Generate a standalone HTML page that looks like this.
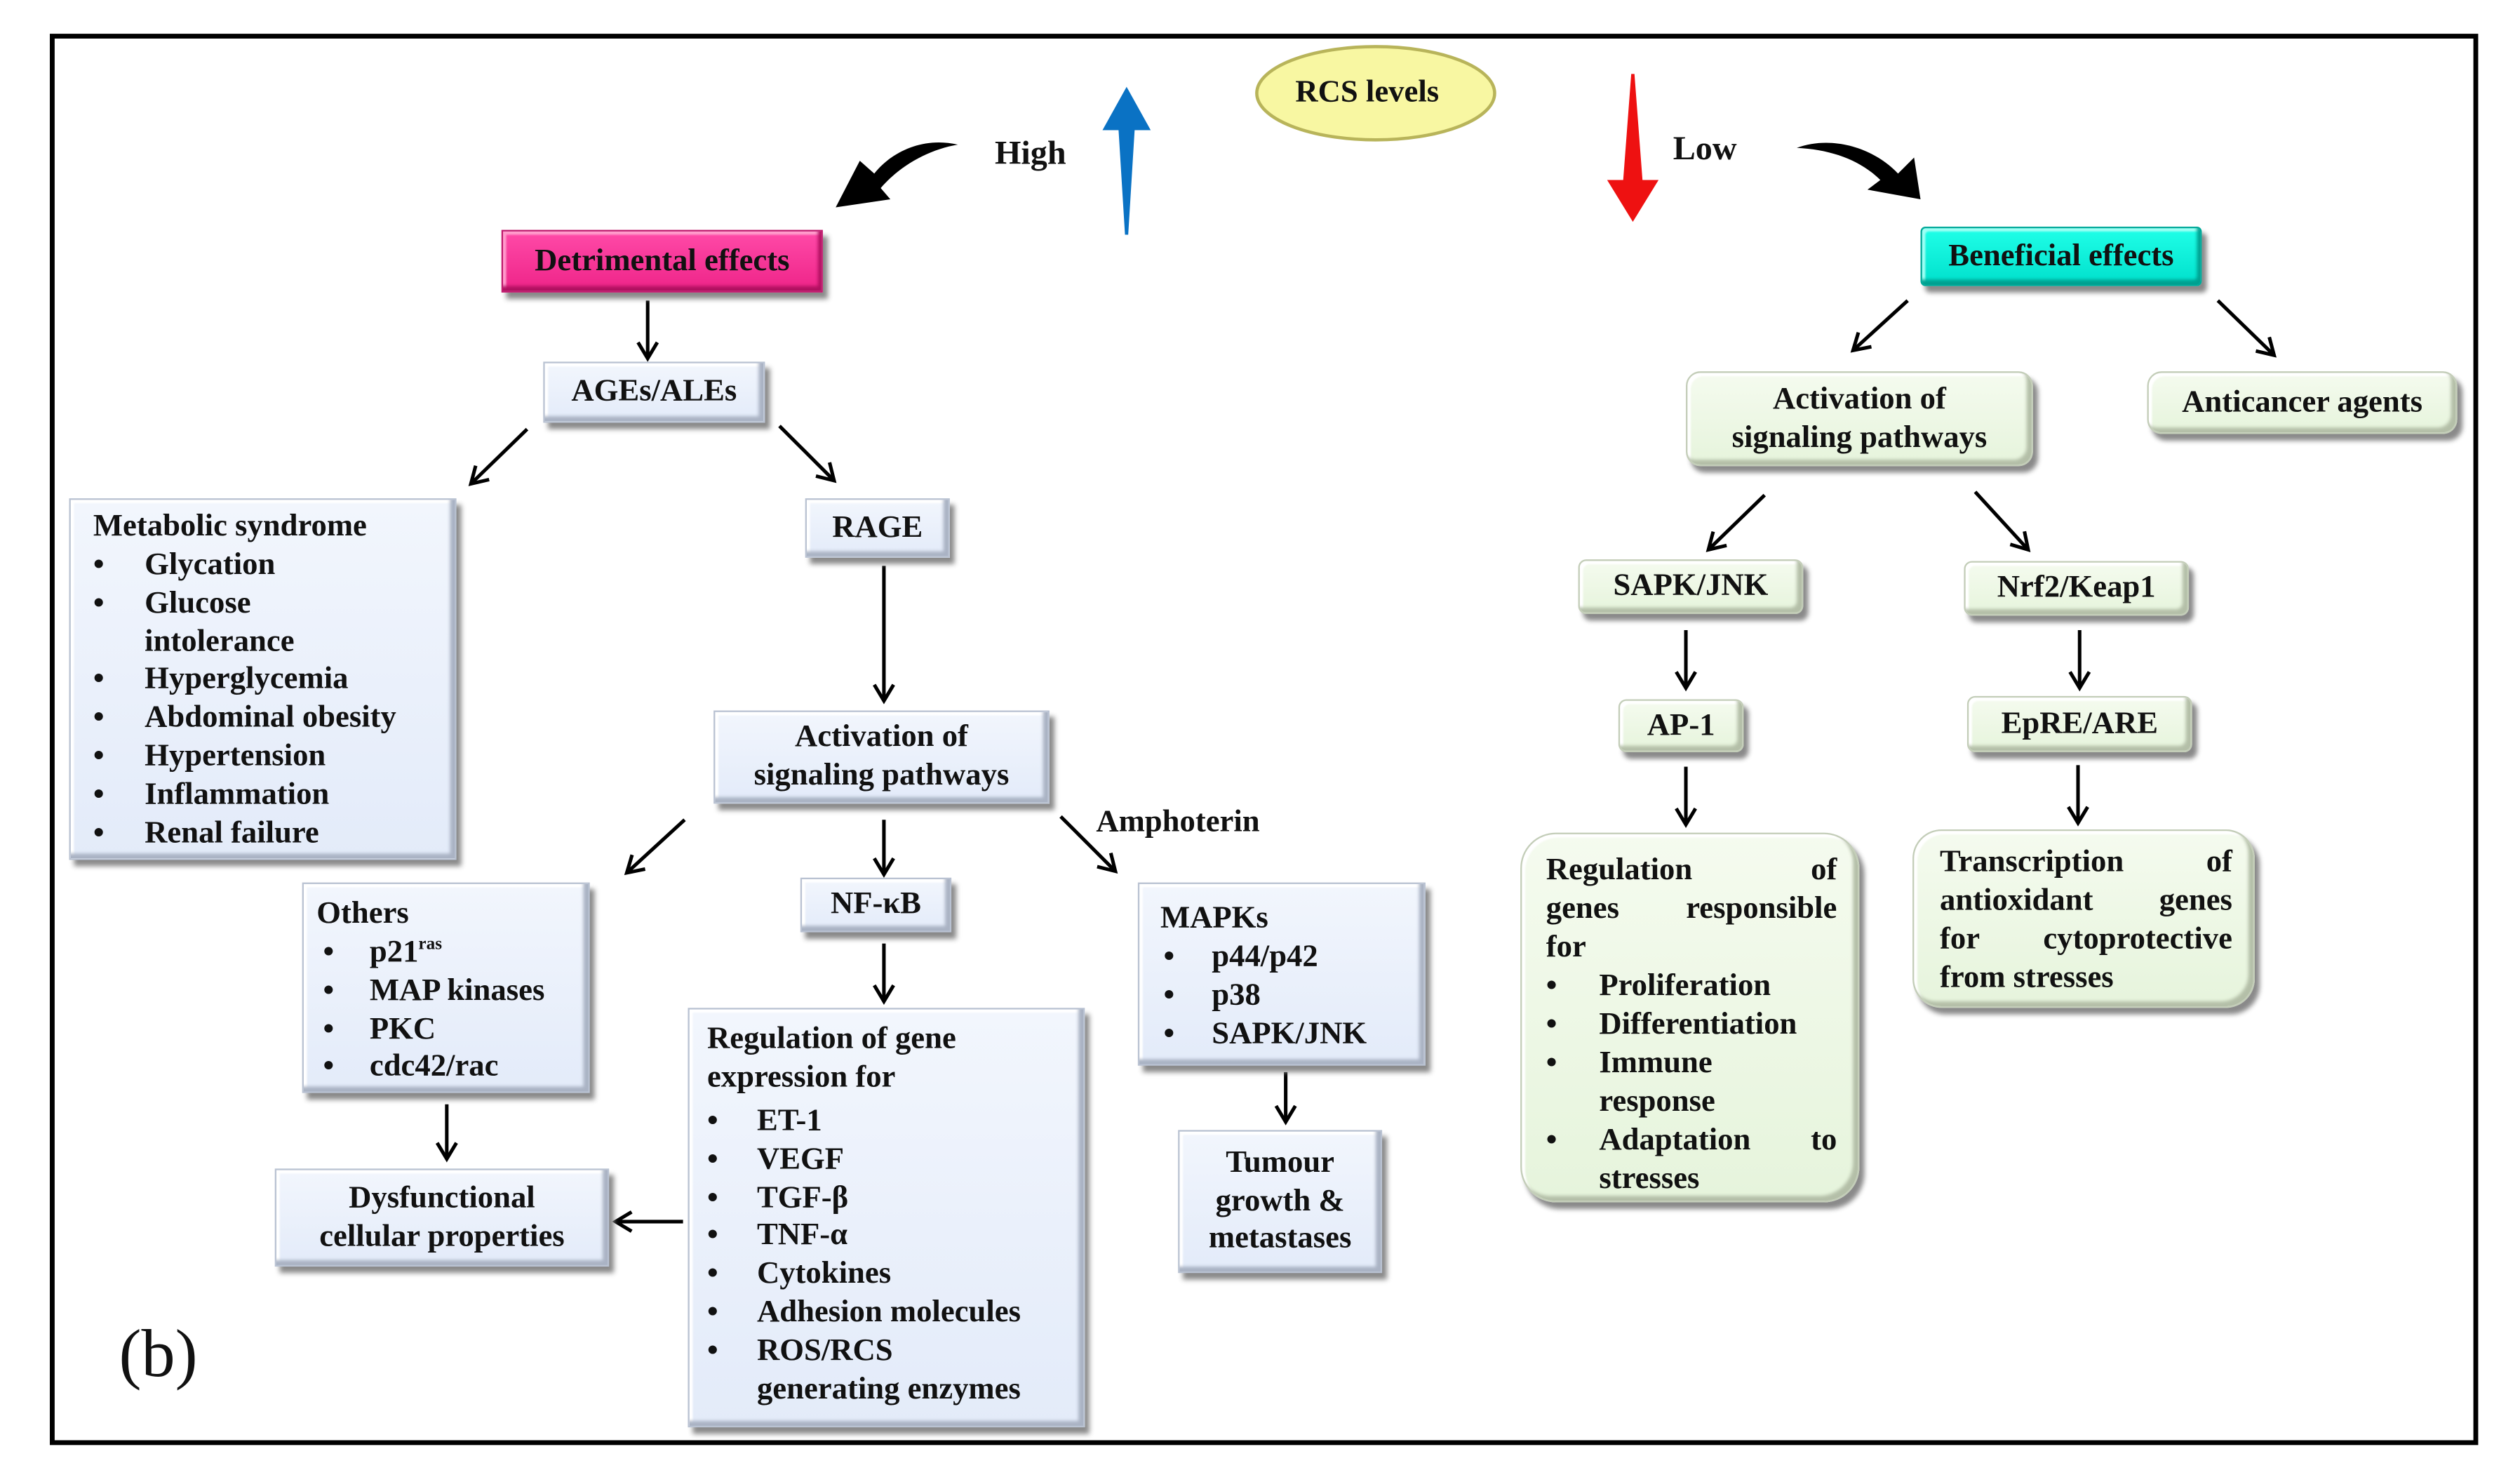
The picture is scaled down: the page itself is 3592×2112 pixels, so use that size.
<!DOCTYPE html>
<html><head><meta charset="utf-8">
<style>
html,body{margin:0;padding:0;background:#fff;}
body{width:3592px;height:2112px;overflow:hidden;position:relative;}
#c{position:absolute;left:0;top:0;width:1568px;height:922px;transform-origin:0 0;transform:scale(2.2908,2.2907);font-family:"Liberation Serif",serif;font-weight:bold;color:#111;}
.b{position:absolute;box-sizing:border-box;background:linear-gradient(#f2f6fd,#e3ebf9);border:1px solid #b9c2d2;box-shadow:3px 4px 3px #8a8a8a, inset -3px -3px 2px #aab3c4, inset 2px 2px 1px #fff;font-size:19.5px;line-height:23.8px;}
.g{background:linear-gradient(#f5fbef,#e6f4dc);border:1px solid #c3cdb8;border-radius:9px;box-shadow:3px 4px 3px #8a8a8a, inset -3px -3px 2px #b4bfa8, inset 2px 2px 1px #fff;}
.ctr{display:flex;align-items:center;justify-content:center;text-align:center;}
.t{position:absolute;white-space:nowrap;font-size:19.5px;line-height:23.8px;}
.sp{display:flex;justify-content:space-between;}
</style></head><body>
<div id="c">
<div style="position:absolute;left:31px;top:21px;width:1511px;height:878px;box-sizing:border-box;border:3px solid #000;"></div>

<svg width="1568" height="922" style="position:absolute;left:0;top:0">
<defs><marker id="a" markerWidth="14" markerHeight="14" refX="11" refY="7" orient="auto" markerUnits="userSpaceOnUse"><polyline points="1,1 11,7 1,13" fill="none" stroke="#000" stroke-width="2.2"/></marker></defs>
<g stroke="#000" stroke-width="2.2" marker-end="url(#a)">
<line x1="403" y1="187" x2="403" y2="223"/>
<line x1="328" y1="267" x2="293" y2="301"/>
<line x1="485" y1="265" x2="519" y2="299"/>
<line x1="550" y1="352" x2="550" y2="436"/>
<line x1="426" y1="510" x2="390" y2="543"/>
<line x1="550" y1="510" x2="550" y2="544"/>
<line x1="660" y1="508" x2="694" y2="542"/>
<line x1="550" y1="587" x2="550" y2="623"/>
<line x1="278" y1="687" x2="278" y2="721"/>
<line x1="425" y1="760" x2="383" y2="760"/>
<line x1="800" y1="667" x2="800" y2="698"/>
<line x1="1187" y1="187" x2="1153" y2="218"/>
<line x1="1380" y1="187" x2="1415" y2="221"/>
<line x1="1098" y1="308" x2="1063" y2="342"/>
<line x1="1229" y1="306" x2="1262" y2="342"/>
<line x1="1049" y1="392" x2="1049" y2="428"/>
<line x1="1294" y1="392" x2="1294" y2="428"/>
<line x1="1049" y1="477" x2="1049" y2="513"/>
<line x1="1293" y1="476" x2="1293" y2="512"/>
</g>
<path d="M596,90 C575,85 555,94 544,108 L535,100 L520,129 L554,124 L548,117 C560,103 578,93 596,90 Z" fill="#000"/>
<path d="M1118,92 C1140,84 1166,92 1181,108 L1191,98 L1195,124 L1162,118 L1170,112 C1158,100 1140,93 1118,92 Z" fill="#000"/>
<polygon points="701,54 716,81 706,81 702,146 700,146 696,81 686,81" fill="#0a72c4"/>
<polygon points="1015,46 1017,46 1022,112 1032,112 1016,138 1000,112 1010,112" fill="#ee1111"/>
<ellipse cx="856" cy="58" rx="74" ry="29" fill="#f8f7a2" stroke="#b8b45a" stroke-width="2"/>
</svg>

<div class="t" style="left:806px;top:46px;">RCS levels</div>
<div class="t" style="left:619px;top:84px;font-size:21px;">High</div>
<div class="t" style="left:1041px;top:81px;font-size:21px;">Low</div>
<div class="t" style="left:74px;top:818px;font-size:42px;line-height:50px;font-weight:normal;">(b)</div>
<div class="t" style="left:682px;top:500px;">Amphoterin</div>

<div class="b ctr" style="left:312px;top:143px;width:200px;height:39px;background:linear-gradient(#ff4aa8,#ee2488);border-color:#c01a6e;box-shadow:3px 4px 3px #8a8a8a, inset -2px -3px 2px #b01060, inset 2px 2px 1px #ff9ccc;">Detrimental effects</div>
<div class="b ctr" style="left:338px;top:225px;width:138px;height:38px;">AGEs/ALEs</div>
<div class="b ctr" style="left:501px;top:310px;width:90px;height:37px;">RAGE</div>
<div class="b ctr" style="left:444px;top:442px;width:209px;height:58px;">Activation of<br>signaling pathways</div>
<div class="b ctr" style="left:498px;top:546px;width:94px;height:34px;">NF-κB</div>
<div class="b ctr" style="left:171px;top:727px;width:208px;height:61px;">Dysfunctional<br>cellular properties</div>
<div class="b ctr" style="left:733px;top:703px;width:127px;height:89px;">Tumour<br>growth &amp;<br>metastases</div>

<div class="b" style="left:43px;top:310px;width:241px;height:225px;">
<div class="t" style="left:14px;top:5px;">Metabolic syndrome</div>
<div class="t" style="left:14px;top:29px;">•</div><div class="t" style="left:46px;top:29px;">Glycation</div>
<div class="t" style="left:14px;top:53px;">•</div><div class="t" style="left:46px;top:53px;">Glucose</div>
<div class="t" style="left:46px;top:77px;">intolerance</div>
<div class="t" style="left:14px;top:100px;">•</div><div class="t" style="left:46px;top:100px;">Hyperglycemia</div>
<div class="t" style="left:14px;top:124px;">•</div><div class="t" style="left:46px;top:124px;">Abdominal obesity</div>
<div class="t" style="left:14px;top:148px;">•</div><div class="t" style="left:46px;top:148px;">Hypertension</div>
<div class="t" style="left:14px;top:172px;">•</div><div class="t" style="left:46px;top:172px;">Inflammation</div>
<div class="t" style="left:14px;top:196px;">•</div><div class="t" style="left:46px;top:196px;">Renal failure</div>
</div>

<div class="b" style="left:188px;top:549px;width:179px;height:131px;">
<div class="t" style="left:8px;top:7px;">Others</div>
<div class="t" style="left:12px;top:31px;">•</div><div class="t" style="left:41px;top:31px;">p21<sup style="font-size:11px;line-height:0">ras</sup></div>
<div class="t" style="left:12px;top:55px;">•</div><div class="t" style="left:41px;top:55px;">MAP kinases</div>
<div class="t" style="left:12px;top:79px;">•</div><div class="t" style="left:41px;top:79px;">PKC</div>
<div class="t" style="left:12px;top:102px;">•</div><div class="t" style="left:41px;top:102px;">cdc42/rac</div>
</div>

<div class="b" style="left:708px;top:549px;width:179px;height:114px;">
<div class="t" style="left:13px;top:10px;">MAPKs</div>
<div class="t" style="left:15px;top:34px;">•</div><div class="t" style="left:45px;top:34px;">p44/p42</div>
<div class="t" style="left:15px;top:58px;">•</div><div class="t" style="left:45px;top:58px;">p38</div>
<div class="t" style="left:15px;top:82px;">•</div><div class="t" style="left:45px;top:82px;">SAPK/JNK</div>
</div>

<div class="b" style="left:428px;top:627px;width:247px;height:261px;">
<div class="t" style="left:11px;top:7px;">Regulation of gene</div>
<div class="t" style="left:11px;top:31px;">expression for</div>
<div class="t" style="left:11px;top:58px;">•</div><div class="t" style="left:42px;top:58px;">ET-1</div>
<div class="t" style="left:11px;top:82px;">•</div><div class="t" style="left:42px;top:82px;">VEGF</div>
<div class="t" style="left:11px;top:106px;">•</div><div class="t" style="left:42px;top:106px;">TGF-β</div>
<div class="t" style="left:11px;top:129px;">•</div><div class="t" style="left:42px;top:129px;">TNF-α</div>
<div class="t" style="left:11px;top:153px;">•</div><div class="t" style="left:42px;top:153px;">Cytokines</div>
<div class="t" style="left:11px;top:177px;">•</div><div class="t" style="left:42px;top:177px;">Adhesion molecules</div>
<div class="t" style="left:11px;top:201px;">•</div><div class="t" style="left:42px;top:201px;">ROS/RCS</div>
<div class="t" style="left:42px;top:225px;">generating enzymes</div>
</div>

<div class="b g ctr" style="left:1195px;top:141px;width:175px;height:37px;border-radius:3px;background:linear-gradient(#20ffe8,#00e0cc);border-color:#00a898;box-shadow:3px 4px 3px #8a8a8a, inset -2px -3px 2px #00a090, inset 2px 2px 1px #9ffff4;">Beneficial effects</div>
<div class="b g ctr" style="left:1049px;top:231px;width:216px;height:59px;">Activation of<br>signaling pathways</div>
<div class="b g ctr" style="left:1336px;top:231px;width:193px;height:39px;">Anticancer agents</div>
<div class="b g ctr" style="left:982px;top:348px;width:140px;height:34px;border-radius:5px;">SAPK/JNK</div>
<div class="b g ctr" style="left:1222px;top:349px;width:140px;height:34px;border-radius:5px;">Nrf2/Keap1</div>
<div class="b g ctr" style="left:1007px;top:435px;width:78px;height:33px;border-radius:5px;">AP-1</div>
<div class="b g ctr" style="left:1224px;top:433px;width:140px;height:35px;border-radius:5px;">EpRE/ARE</div>

<div class="b g" style="left:946px;top:518px;width:211px;height:230px;border-radius:22px;">
<div class="t sp" style="left:15px;top:11px;width:181px;"><span>Regulation</span><span>of</span></div>
<div class="t sp" style="left:15px;top:35px;width:181px;"><span>genes</span><span>responsible</span></div>
<div class="t" style="left:15px;top:59px;">for</div>
<div class="t" style="left:15px;top:83px;">•</div><div class="t" style="left:48px;top:83px;">Proliferation</div>
<div class="t" style="left:15px;top:107px;">•</div><div class="t" style="left:48px;top:107px;">Differentiation</div>
<div class="t" style="left:15px;top:131px;">•</div><div class="t" style="left:48px;top:131px;">Immune</div>
<div class="t" style="left:48px;top:155px;">response</div>
<div class="t" style="left:15px;top:179px;">•</div><div class="t sp" style="left:48px;top:179px;width:148px;"><span>Adaptation</span><span>to</span></div>
<div class="t" style="left:48px;top:203px;">stresses</div>
</div>

<div class="b g" style="left:1190px;top:516px;width:213px;height:111px;border-radius:18px;">
<div class="t sp" style="left:16px;top:8px;width:182px;"><span>Transcription</span><span>of</span></div>
<div class="t sp" style="left:16px;top:32px;width:182px;"><span>antioxidant</span><span>genes</span></div>
<div class="t sp" style="left:16px;top:56px;width:182px;"><span>for</span><span>cytoprotective</span></div>
<div class="t" style="left:16px;top:80px;">from stresses</div>
</div>
</div>
</body></html>
